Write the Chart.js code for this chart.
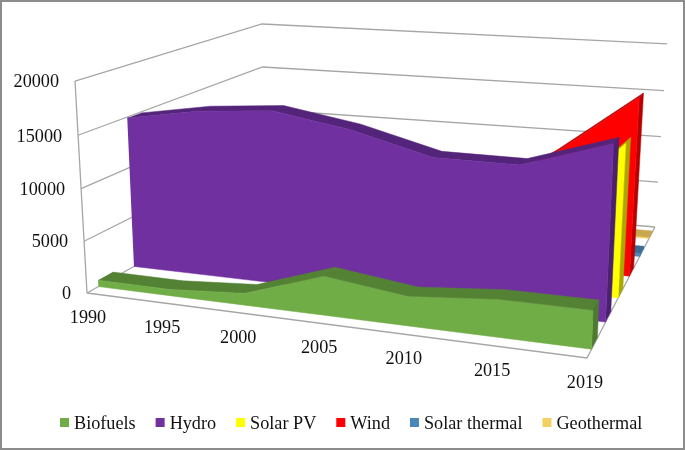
<!DOCTYPE html>
<html>
<head>
<meta charset="utf-8">
<style>
    html, body { margin: 0; padding: 0; background: #fff; }
    canvas { display: block; outline: 2px solid #8c8c8c; outline-offset: -2px; }
</style>
<script src="https://cdn.jsdelivr.net/npm/chart.js@4/dist/chart.umd.js"></script>
</head>
<body>
<canvas id="chart3d" width="685" height="450"></canvas>
<script>
var years = ['1990', '1995', '2000', '2005', '2010', '2015', '2019'];
var yTicks = [0, 5000, 10000, 15000, 20000];
var yMax = 20000;

var biofuels = [620, 600, 1100, 3550, 2600, 3250, 3250];
var hydro = [14900, 16000, 16500, 15200, 13200, 13100, 15500];
var solarPv = [10, 20, 50, 300, 2500, 6500, 14200];
var wind = [50, 300, 1200, 3000, 6000, 11200, 17200];
var solarThermal = [20, 30, 60, 100, 150, 250, 300];
var geothermal = [60, 70, 80, 90, 100, 100, 100];

var seriesNames = ['Biofuels', 'Hydro', 'Solar PV', 'Wind', 'Solar thermal', 'Geothermal'];
var seriesValues = [biofuels, hydro, solarPv, wind, solarThermal, geothermal];
var frontColors = ['#70ad47', '#7030a0', '#ffff00', '#ff0000', '#4a86b8', '#f4cf62'];
var topColors = ['#548235', '#54247a', '#a8a800', '#b80000', '#3a6c94', '#c9a650'];
var sideColors = ['#4e7a30', '#4a2070', '#a8a800', '#b80000', '#3a6c94', '#c9a650'];

var gridColor = '#a6a6a6';
var ribbonDepth = 0.0667;
var yearLabelNudge = [1, 3, 3, 3.5, 3, 1, -2];

// perspective of the box: u along the years, v into the page, w up
function project(u, v, w) {
    var den = 1 - 0.1572 * u + 0.3061 * v - 0.03 * w;
    return {
        x: (407.7 * u + 257.8 * v + 87 + w * (-14.25 + 4.4 * u + 3.75 * v)) / den,
        y: (8.7 * u - 40.9 * v + 293 + w * (-214.4 + v * (-7.1 + 9.9 * u))) / den
    };
}

function uOf(i) { return i / (years.length - 1); }

function frontFace(values, v0) {
    var pts = values.map(function (val, i) { return project(uOf(i), v0, val / yMax); });
    for (var i = values.length - 1; i >= 0; i--) pts.push(project(uOf(i), v0, 0));
    return pts;
}

function topFace(values, v0, v1) {
    var pts = values.map(function (val, i) { return project(uOf(i), v0, val / yMax); });
    for (var i = values.length - 1; i >= 0; i--) pts.push(project(uOf(i), v1, values[i] / yMax));
    return pts;
}

function sideFace(values, v0, v1) {
    var w = values[values.length - 1] / yMax;
    return [project(1, v0, 0), project(1, v0, w), project(1, v1, w), project(1, v1, 0)];
}

function face(pts, color) {
    return {
        data: pts,
        fill: 'shape',
        backgroundColor: color,
        borderColor: color,
        borderWidth: 0.5,
        pointRadius: 0,
        tension: 0
    };
}

function gridLine(pts) {
    return {
        data: pts,
        fill: false,
        borderColor: gridColor,
        borderWidth: 1.3,
        pointRadius: 0,
        tension: 0
    };
}

// first dataset is drawn on top, so go front to back
var datasets = [];
seriesValues.forEach(function (values, k) {
    var centre = (k + 0.5) / seriesValues.length;
    var v0 = centre - ribbonDepth / 2;
    var v1 = centre + ribbonDepth / 2;
    datasets.push(face(frontFace(values, v0), frontColors[k]));
    datasets.push(face(sideFace(values, v0, v1), sideColors[k]));
    datasets.push(face(topFace(values, v0, v1), topColors[k]));
});

yTicks.forEach(function (tick) {
    var w = tick / yMax;
    datasets.push(gridLine([project(0, 0, w), project(0, 1, w), project(1, 1, w)]));
});
datasets.push(gridLine([project(0, 0, 0), project(1, 0, 0), project(1, 1, 0)]));
datasets.push(gridLine([project(0, 0, 0), project(0, 0, 1)]));

var textPlugin = {
    id: 'boxText',
    afterDraw: function (chart) {
        var ctx = chart.ctx;
        var sx = chart.scales.x;
        var sy = chart.scales.y;
        ctx.save();
        ctx.fillStyle = '#111';
        ctx.font = '18.2px "Liberation Serif"';
        ctx.textBaseline = 'middle';

        ctx.textAlign = 'right';
        yTicks.forEach(function (tick) {
            var p = project(0, 0, tick / yMax);
            ctx.fillText(String(tick), sx.getPixelForValue(p.x) - 16, sy.getPixelForValue(p.y) + 1.5);
        });

        ctx.textAlign = 'center';
        years.forEach(function (year, i) {
            var p = project(uOf(i), 0, 0);
            ctx.fillText(year, sx.getPixelForValue(p.x) + yearLabelNudge[i], sy.getPixelForValue(p.y) + 25.5);
        });

        // legend row
        ctx.textAlign = 'left';
        var x = 60;
        seriesNames.forEach(function (name, k) {
            ctx.fillStyle = frontColors[k];
            ctx.fillRect(x, 418, 9, 9);
            ctx.fillStyle = '#111';
            ctx.fillText(name, x + 14, 424);
            x += 14 + ctx.measureText(name).width + 20;
        });
        ctx.restore();
    }
};

var chart3d = new Chart(document.getElementById('chart3d'), {
    type: 'line',
    data: { datasets: datasets },
    plugins: [textPlugin],
    options: {
        responsive: false,
        animation: false,
        layout: { padding: 0 },
        plugins: { legend: { display: false }, tooltip: { enabled: false } },
        scales: {
            x: { type: 'linear', min: 0, max: 685, display: false },
            y: { type: 'linear', min: 0, max: 450, reverse: true, display: false }
        }
    }
});
</script>
</body>
</html>
